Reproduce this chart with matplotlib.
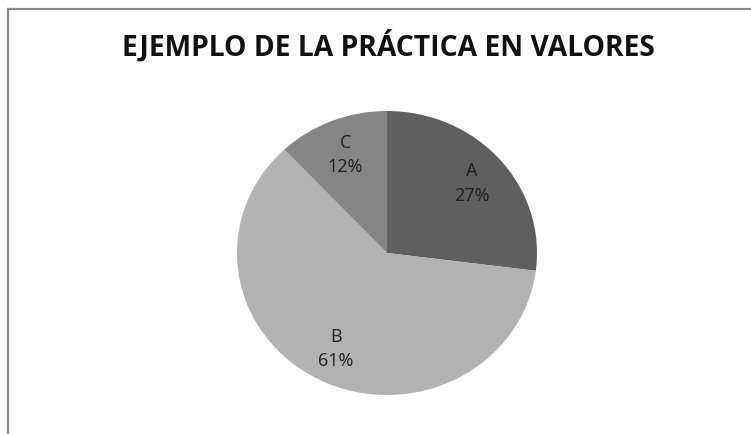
import matplotlib
matplotlib.use("Agg")
import matplotlib.pyplot as plt
from matplotlib.lines import Line2D

categories = ["A", "B", "C"]
values = [27, 61, 12]
colors = ["#5f5f5f", "#b2b2b2", "#858585"]
title = "EJEMPLO DE LA PRÁCTICA EN VALORES"

W, H = 751, 435
fig = plt.figure(figsize=(W / 100, H / 100), dpi=100)
fig.patch.set_facecolor("white")

# frame lines (top and left)
fig.add_artist(Line2D([8 / W, 1], [1 - 10 / H, 1 - 10 / H], color="#8a8a8a", lw=1.6, transform=fig.transFigure))
fig.add_artist(Line2D([8 / W, 8 / W], [0, 1 - 10 / H], color="#8a8a8a", lw=1.6, transform=fig.transFigure))

ax = fig.add_axes([237 / W, (H - 396) / H, 300 / W, 284 / H])
it = iter(categories)
wedges, texts, autotexts = ax.pie(
    values, colors=colors, startangle=90, counterclock=False,
    autopct=lambda p: f"{next(it)}\n{p:.0f}%", pctdistance=0.75,
    wedgeprops=dict(linewidth=0),
    textprops=dict(fontsize=13, color="#1e1e1e", family=["Open Sans", "DejaVu Sans"], linespacing=1.45),
)
ax.set_aspect("auto")
ax.set_xlim(-1, 1)
ax.set_ylim(-1, 1)
ax.axis("off")

fig.text(388 / W, 1 - 46 / H, title, ha="center", va="center", fontsize=20.3,
         fontweight="bold", family=["Open Sans", "DejaVu Sans"], color="#111111")

fig.savefig("out.png", dpi=100, facecolor="white")
